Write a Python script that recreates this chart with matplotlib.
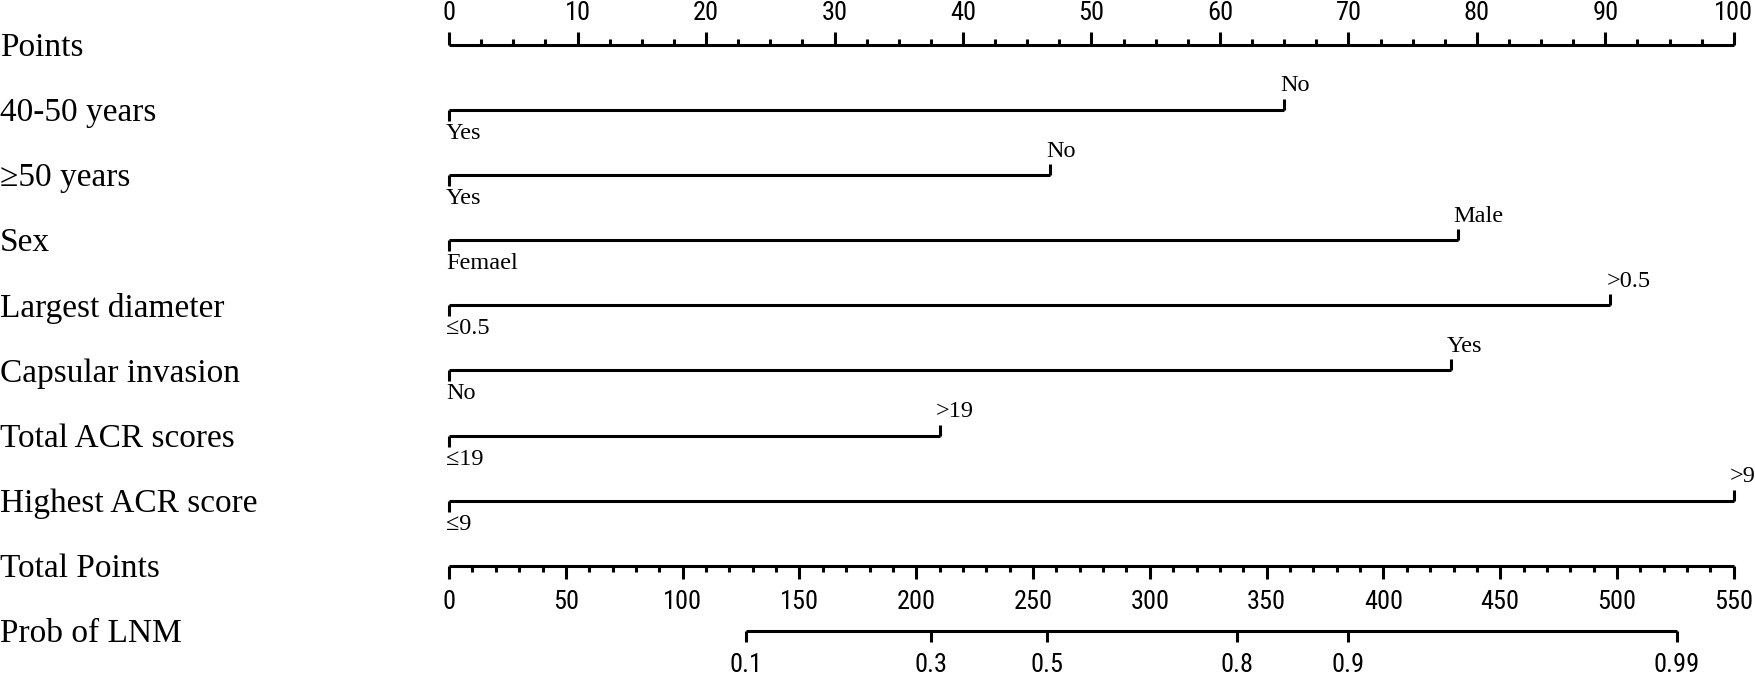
import matplotlib
matplotlib.use("Agg")
import matplotlib.pyplot as plt
from matplotlib import font_manager

# ---------------- data ----------------
row_labels = ["Points", "40-50 years", "\u226550 years", "Sex", "Largest diameter",
              "Capsular invasion", "Total ACR scores", "Highest ACR score",
              "Total Points", "Prob of LNM"]
points_ticks = [0, 10, 20, 30, 40, 50, 60, 70, 80, 90, 100]
var_low_levels = ["Yes", "Yes", "Femael", "\u22640.5", "No", "\u226419", "\u22649"]
var_high_levels = ["No", "No", "Male", ">0.5", "Yes", ">19", ">9"]
var_low_points = [0, 0, 0, 0, 0, 0, 0]
var_high_points = [65.0, 46.8, 78.5, 90.4, 78.0, 38.2, 100.0]
total_ticks = [0, 50, 100, 150, 200, 250, 300, 350, 400, 450, 500, 550]
prob_labels = ["0.1", "0.3", "0.5", "0.8", "0.9", "0.99"]
prob_total_points = [127.1, 206.3, 256.1, 337.3, 384.7, 525.5]

# ---------------- fonts ----------------
names = {f.name for f in font_manager.fontManager.ttflist}
serif = "Liberation Serif" if "Liberation Serif" in names else "DejaVu Serif"
narrow = None
for cand in ["Liberation Sans Narrow", "Arial Narrow", "Roboto Condensed", "Open Sans Condensed"]:
    if cand in names:
        narrow = cand
        break
if narrow is not None:
    tick_fs = 19
else:
    narrow = "Liberation Sans" if "Liberation Sans" in names else "DejaVu Sans"
    tick_fs = 18

W, H = 1755, 674
fig = plt.figure(figsize=(W / 100, H / 100), dpi=100)
x0_px, x1_px = 449.1, 1733.8
y0_px, y9_px = 44.8, 631.0
pos = [x0_px / W, 1 - y9_px / H, (x1_px - x0_px) / W, (y9_px - y0_px) / H]

ax = fig.add_axes(pos)
ax.set_xlim(0, 100)
ax.set_ylim(9, 0)
ax.axis("off")
ax2 = fig.add_axes(pos)
ax2.set_xlim(0, 550)
ax2.set_ylim(9, 0)
ax2.axis("off")

row_px = (y9_px - y0_px) / 9.0
px = 1.0 / row_px  # one pixel in y data units
lw = 2.2

def tick(a, x, y, length_px, up):
    d = -length_px * px if up else length_px * px
    a.plot([x, x], [y, y + d], color="black", lw=lw, solid_capstyle="butt", clip_on=False)

# row labels
for i, lab in enumerate(row_labels):
    fig.text(0.0, 1 - (y0_px + i * row_px + 3) / H, lab, family=serif, fontsize=24,
             ha="left", va="center")

# Points axis (row 0)
ax.plot([0, 100], [0, 0], color="black", lw=lw, clip_on=False, solid_capstyle="butt")
minor = [v * 2.5 for v in range(41)]
for m in minor:
    if m in points_ticks:
        tick(ax, m, 0, 13, True)
    else:
        tick(ax, m, 0, 6, True)
for t in points_ticks:
    ax.annotate(str(t), (t, 0), xytext=(0, 25), textcoords="offset pixels",
                ha="center", va="baseline", family=narrow, fontsize=tick_fs, annotation_clip=False)

# variable rows
for k in range(len(var_high_points)):
    y = k + 1
    lo, hi = var_low_points[k], var_high_points[k]
    ax.plot([lo, hi], [y, y], color="black", lw=lw, clip_on=False, solid_capstyle="butt")
    tick(ax, lo, y, 11, False)
    tick(ax, hi, y, 11, True)
    ax.annotate(var_low_levels[k], (lo, y), xytext=(-3, -13), textcoords="offset pixels",
                ha="left", va="top", family=serif, fontsize=17.5, annotation_clip=False)
    ax.annotate(var_high_levels[k], (hi, y), xytext=(-4, 13.5), textcoords="offset pixels",
                ha="left", va="bottom", family=serif, fontsize=17.5, annotation_clip=False)

# Total points axis (row 8)
ax2.plot([0, 550], [8, 8], color="black", lw=lw, clip_on=False, solid_capstyle="butt")
for m in range(0, 551, 10):
    if m in total_ticks:
        tick(ax2, m, 8, 13, False)
    else:
        tick(ax2, m, 8, 6, False)
for t in total_ticks:
    ax2.annotate(str(t), (t, 8), xytext=(0, -43), textcoords="offset pixels",
                 ha="center", va="baseline", family=narrow, fontsize=tick_fs, annotation_clip=False)

# Prob axis (row 9)
ax2.plot([prob_total_points[0], prob_total_points[-1]], [9, 9], color="black", lw=lw,
         clip_on=False, solid_capstyle="butt")
for lab, p in zip(prob_labels, prob_total_points):
    tick(ax2, p, 9, 11, False)
    ax2.annotate(lab, (p, 9), xytext=(0, -41), textcoords="offset pixels",
                 ha="center", va="baseline", family=narrow, fontsize=tick_fs, annotation_clip=False)

fig.savefig("out.png", dpi=100)
